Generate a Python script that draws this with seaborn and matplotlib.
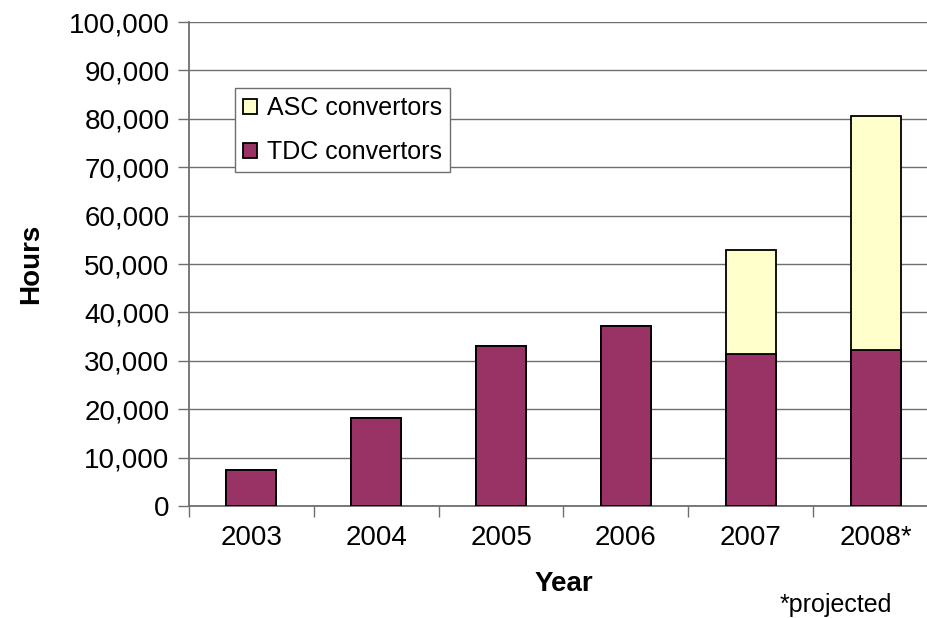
import matplotlib
matplotlib.use("Agg")
import matplotlib.pyplot as plt
from matplotlib.patches import Patch
from matplotlib.ticker import FuncFormatter, FixedLocator
import seaborn as sns
import pandas as pd
import numpy as np

years = ["2003", "2004", "2005", "2006", "2007", "2008*"]
tdc_hours = [7400, 18200, 33100, 37200, 31400, 32200]
asc_hours = [0, 0, 0, 0, 21500, 48400]

TDC_COLOR = "#993366"
ASC_COLOR = "#FFFFCC"
GRID_COLOR = "#6e6e6e"

sns.set_theme(style="white")
plt.rcParams["font.family"] = ["Liberation Sans", "DejaVu Sans"]
plt.rcParams["text.color"] = "black"
plt.rcParams["axes.labelcolor"] = "black"

df = pd.DataFrame({
    "Year": years,
    "TDC": tdc_hours,
    "ASC": asc_hours,
})
df["Total"] = df["TDC"] + df["ASC"]

fig = plt.figure(figsize=(9.28, 6.18), dpi=100)
ax = fig.add_axes([189 / 928, 1 - 506 / 618, 749 / 928, 484 / 618])

# stacked bars: full height in ASC colour, TDC drawn over the lower part
sns.barplot(data=df, x="Year", y="Total", color=ASC_COLOR, width=0.4,
            edgecolor="black", linewidth=1.3, saturation=1, ax=ax, zorder=3)
sns.barplot(data=df, x="Year", y="TDC", color=TDC_COLOR, width=0.4,
            edgecolor="black", linewidth=1.3, saturation=1, ax=ax, zorder=4)

ax.set_xlim(-0.5, 5.5)
ax.set_ylim(0, 100000)
ax.set_yticks(np.arange(0, 100001, 10000))
ax.yaxis.set_major_formatter(FuncFormatter(lambda v, p: f"{int(v):,}"))
ax.yaxis.grid(True, color=GRID_COLOR, linewidth=1.0, zorder=0)
ax.set_axisbelow(True)

# tick marks between categories, labels centred under bars
ax.xaxis.set_major_locator(FixedLocator(np.arange(-0.5, 6, 1.0)))
ax.xaxis.set_major_formatter(FuncFormatter(lambda v, p: ""))
ax.xaxis.set_minor_locator(FixedLocator(np.arange(0, 6)))
ax.set_xticklabels(years, minor=True)
ax.tick_params(axis="x", which="major", length=8, width=1.0, color=GRID_COLOR,
               direction="out", bottom=True)
ax.tick_params(axis="x", which="minor", length=0, labelsize=20, pad=14,
               labelcolor="black")
ax.tick_params(axis="y", which="major", length=8, width=1.0, color=GRID_COLOR,
               direction="out", left=True, labelsize=20, pad=6,
               labelcolor="black")

for side in ["top", "right"]:
    ax.spines[side].set_visible(False)
for side in ["left", "bottom"]:
    ax.spines[side].set_color(GRID_COLOR)
    ax.spines[side].set_linewidth(1.3)

ax.set_xlabel("Year", fontsize=20, fontweight="bold", labelpad=14, color="black")
ax.set_ylabel("Hours", fontsize=20, fontweight="bold", labelpad=18, color="black")

handles = [
    Patch(facecolor=ASC_COLOR, edgecolor="black", linewidth=1.3, label="ASC convertors"),
    Patch(facecolor=TDC_COLOR, edgecolor="black", linewidth=1.3, label="TDC convertors"),
]
leg = ax.legend(handles=handles, loc="upper left",
                bbox_to_anchor=((235 - 189) / 749, (506 - 88) / 484),
                borderaxespad=0, fontsize=18, frameon=True, fancybox=False,
                handlelength=0.55, handleheight=0.55, handletextpad=0.4,
                labelspacing=0.8, borderpad=0.32, labelcolor="black")
leg.get_frame().set_edgecolor(GRID_COLOR)
leg.get_frame().set_linewidth(1.0)
leg.get_frame().set_alpha(1)
leg.set_zorder(6)

fig.text(780 / 928, 1 - 605 / 618, "*projected", fontsize=18, ha="left",
         va="center", color="black")

fig.savefig("out.png", dpi=100)
